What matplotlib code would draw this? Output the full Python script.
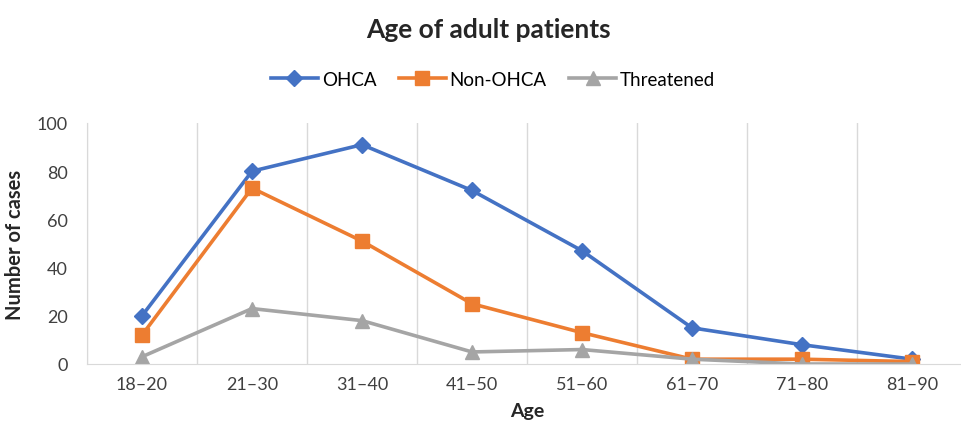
import numpy as np
import matplotlib.pyplot as plt

plt.rcParams['font.family'] = ['Lato', 'DejaVu Sans']

age_groups = ['18–20', '21–30', '31–40', '41–50', '51–60', '61–70', '71–80', '81–90']
ohca = [20, 80, 91, 72, 47, 15, 8, 2]
non_ohca = [12, 73, 51, 25, 13, 2, 2, 1]
threatened = [3, 23, 18, 5, 6, 2, 0, 0]

fig = plt.figure(figsize=(9.61, 4.27), dpi=100)
ax = fig.add_axes([87 / 961, 1 - 365 / 427, 880 / 961, (365 - 124) / 427])

x = np.arange(len(age_groups))
ax.plot(x, ohca, marker='D', color='#4472C4', lw=2.6, ms=8.5, label='OHCA')
ax.plot(x, non_ohca, marker='s', color='#ED7D31', lw=2.6, ms=9.5, label='Non-OHCA')
ax.plot(x, threatened, marker='^', color='#A5A5A5', lw=2.6, ms=9.5, label='Threatened')

ax.set_xlim(-0.5, len(age_groups) - 0.5)
ax.set_ylim(0, 100)
ax.set_yticks(range(0, 101, 20))
ax.set_xticks(x)
ax.set_xticklabels(age_groups)
ax.set_xticks(np.arange(-0.5, len(age_groups), 1), minor=True)
ax.grid(True, axis='x', which='minor', color='#D9D9D9', lw=1)
ax.tick_params(which='both', length=0, labelsize=13, colors='#404040')
ax.tick_params(axis='x', pad=9)
ax.tick_params(axis='y', pad=14)
for s in ['top', 'right']:
    ax.spines[s].set_visible(False)
for s in ['left', 'bottom']:
    ax.spines[s].set_color('#D9D9D9')

ax.set_ylabel('Number of cases', fontsize=14.5, fontweight='bold', color='#262626', labelpad=8)
ax.set_xlabel('Age', fontsize=14, fontweight='bold', color='#262626', labelpad=7)

fig.suptitle('Age of adult patients', fontsize=19, fontweight='bold', color='#262626',
             x=488 / 961, y=1 - 30 / 427, va='center')
fig.legend(loc='center', bbox_to_anchor=(493 / 961, 1 - 80 / 427), ncol=3, frameon=False,
           fontsize=13.5, handlelength=2.5, columnspacing=1.2, handletextpad=0.2)

fig.savefig('out.png', dpi=100)
